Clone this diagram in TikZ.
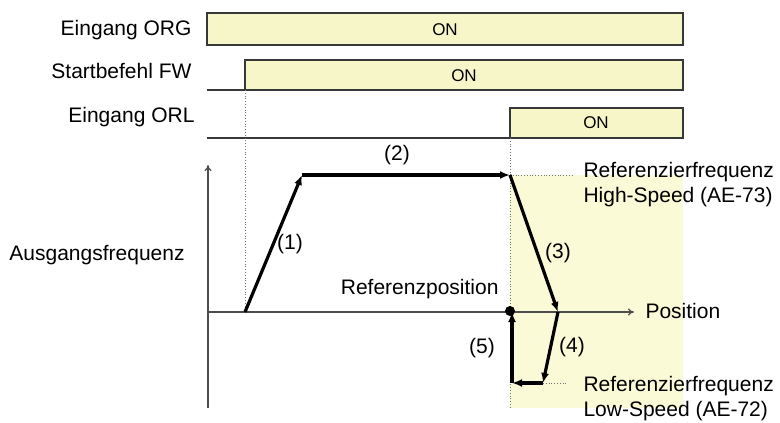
\documentclass[tikz,border=0pt]{standalone}
\usepackage{fontspec}
\setmainfont{Liberation Sans}
\usetikzlibrary{arrows.meta}
\definecolor{onyellow}{RGB}{246,246,200}
\definecolor{zoneyellow}{RGB}{250,250,214}
\tikzset{
  every node/.style={font=\fontsize{21}{25}\selectfont},
  sigline/.style={draw=black!78, line width=1.6pt},
  onbox/.style={sigline, fill=onyellow},
  ontext/.style={font=\fontsize{17}{20}\selectfont},
  axisline/.style={draw=black!70, line width=1.1pt, -{To[length=6pt,width=7pt]}},
  guide/.style={draw=black!55, line width=0.8pt, dotted},
  speedline/.style={line width=3.2pt, -{Latex[length=10pt,width=8pt]}},
}
\begin{document}
\begin{tikzpicture}[x=1pt,y=-1pt]
\useasboundingbox (0,0) rectangle (780,423);

% yellow zone after ORL
\fill[zoneyellow] (510,175) rectangle (683,408);

% signals
\coordinate (ORGa) at (207,13);
\coordinate (ORGb) at (683,45);
\coordinate (FWa) at (245,60);
\coordinate (FWb) at (683,90);
\coordinate (FWc) at (245,90);
\coordinate (FWlow) at (207,90);
\coordinate (ORLa) at (510,108);
\coordinate (ORLb) at (683,138);
\coordinate (ORLc) at (510,138);
\coordinate (ORLlow) at (207,138);
\draw[onbox] (ORGa) rectangle (ORGb);
\draw[onbox] (FWa) rectangle (FWb);
\draw[onbox] (ORLa) rectangle (ORLb);
\draw[sigline] (FWlow) -- (FWc);
\draw[sigline] (ORLlow) -- (ORLc);
\node[ontext] (org) at (445,30) {ON};
\node[ontext] (fw) at (464,76) {ON};
\node[ontext] (orl) at (596,123) {ON};

\node[anchor=east] (orglabel) at (195,30) {Eingang ORG};
\node[anchor=east] (fwlabel) at (195,71) {Startbefehl FW};
\node[anchor=east] (orllabel) at (198,117) {Eingang ORL};

% axes
\coordinate (O) at (208,312);
\coordinate (Ybot) at (208,408);
\coordinate (Ytop) at (208,165);
\coordinate (Xend) at (634,312);
\draw[axisline] (Ybot) -- (Ytop);
\draw[axisline] (O) -- (Xend);
\node[anchor=west] (position) at (642,311) {Position};
\node (ausgang) at (97,255) {Ausgangsfrequenz};

% speed profile
\coordinate (S) at (245,312);
\coordinate (H) at (302,175);
\coordinate (B) at (510,175);
\coordinate (D) at (558,312);
\coordinate (L) at (543,383);
\coordinate (K) at (512,383);
\coordinate (Z) at (512,312);
\coordinate (G) at (510,408);
\coordinate (Hend) at (572,175);
\coordinate (Lend) at (566,383);

\draw[guide] (FWc) -- (S);
\draw[guide] (ORLc) -- (G);
\draw[guide] (B) -- (Hend);
\draw[guide] (L) -- (Lend);

\draw[speedline] (S) -- (H);
\draw[speedline] (H) -- (B);
\draw[speedline] (B) -- (D);
\draw[speedline] (D) -- (L);
\draw[speedline] (L) -- (K);
\draw[speedline] (K) -- (Z);
\fill (510,311) circle (5pt) node (refpoint) {};

\node (n1) at (290,244) {(1)};
\node (n2) at (397,155) {(2)};
\node (n3) at (558,253) {(3)};
\node (n4) at (572,347) {(4)};
\node (n5) at (482,348) {(5)};
\node[anchor=east] (refpos) at (502,289) {Referenzposition};

\node[anchor=west, align=left] (high) at (580,185) {Referenzierfrequenz\\High-Speed (AE-73)};
\node[anchor=west, align=left] (low) at (580,399) {Referenzierfrequenz\\Low-Speed (AE-72)};
\end{tikzpicture}
\end{document}
